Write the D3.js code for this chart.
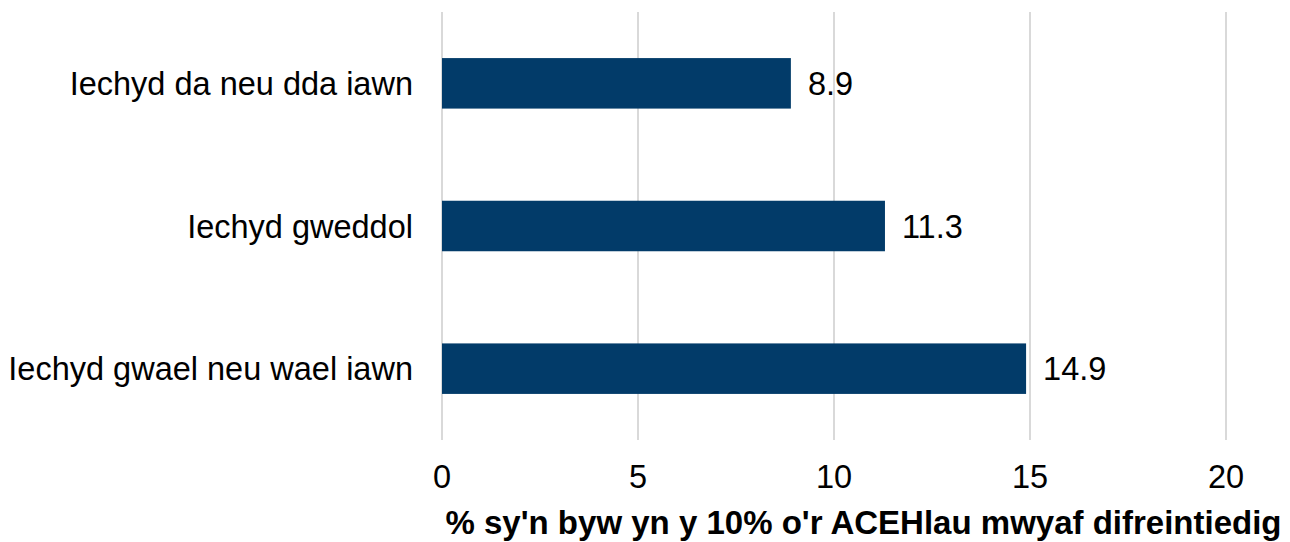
<!DOCTYPE html>
<html><head><meta charset="utf-8">
<script src="https://cdn.jsdelivr.net/npm/d3@7"></script>
<style>body{margin:0;background:#fff}svg{display:block;font-family:"Liberation Sans",Arial,sans-serif}</style>
</head><body><svg id="c" width="1290" height="542"></svg>
<script>
const categories = ["Iechyd da neu dda iawn","Iechyd gweddol","Iechyd gwael neu wael iawn"];
const values = [8.9, 11.3, 14.9];
const tickValues = [0,5,10,15,20];
const xTitle = "% sy'n byw yn y 10% o'r ACEHlau mwyaf difreintiedig";

const svg = d3.select("#c");
const x = d3.scaleLinear().domain([0,20]).range([442,1226]);
const y = d3.scaleBand().domain(categories).range([12,440]).paddingInner(0.646).paddingOuter(0.323);

svg.append("g").selectAll("line").data(tickValues).join("line")
  .attr("x1",d=>x(d)).attr("x2",d=>x(d)).attr("y1",12).attr("y2",440)
  .attr("stroke","#d9d9d9").attr("stroke-width",2);

svg.append("g").selectAll("rect").data(values).join("rect")
  .attr("x",x(0)).attr("y",(d,i)=>y(categories[i]))
  .attr("width",d=>x(d)-x(0)).attr("height",y.bandwidth())
  .attr("fill","#023b69");

svg.append("g").selectAll("text").data(values).join("text")
  .attr("x",d=>x(d)+17).attr("y",(d,i)=>y(categories[i])+y.bandwidth()/2)
  .attr("dy","0.36em").attr("font-size",32.5).attr("fill","#000")
  .text(d=>d.toFixed(1));

svg.append("g").selectAll("text").data(categories).join("text")
  .attr("x",413).attr("y",d=>y(d)+y.bandwidth()/2)
  .attr("dy","0.36em").attr("text-anchor","end").attr("font-size",32.5).attr("fill","#000")
  .text(d=>d);

svg.append("g").selectAll("text").data(tickValues).join("text")
  .attr("x",d=>x(d)).attr("y",488).attr("text-anchor","middle")
  .attr("font-size",32.5).attr("fill","#000").text(d=>d);

svg.append("text").attr("x",863.5).attr("y",534).attr("text-anchor","middle")
  .attr("font-size",33).attr("font-weight","bold").attr("fill","#000").text(xTitle);
</script></body></html>
